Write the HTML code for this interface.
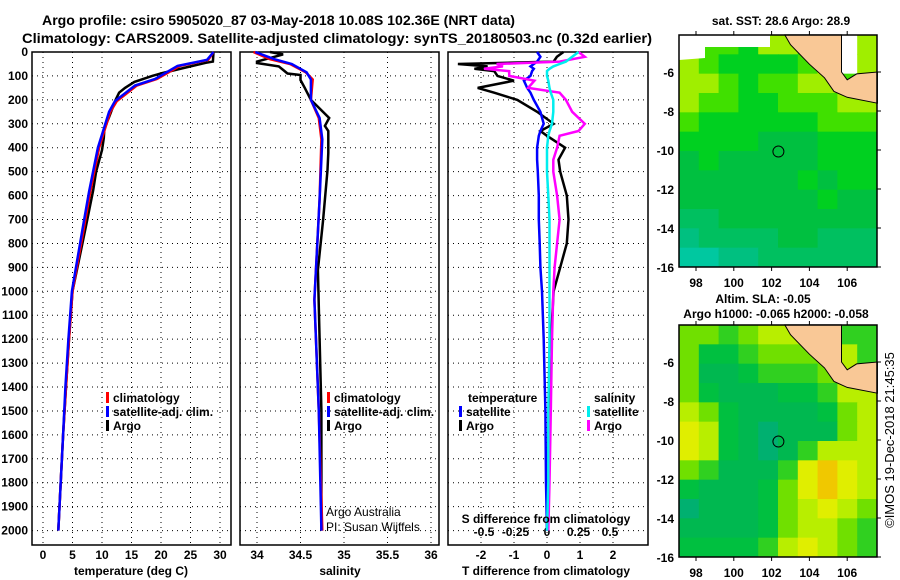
<!DOCTYPE html>
<html><head><meta charset="utf-8"><style>
body{margin:0;background:#fff}
svg{display:block;font-family:"Liberation Sans",sans-serif}
.t{font-weight:bold;font-size:12px}
</style></head><body>
<svg id="s" width="900" height="580" viewBox="0 0 900 580">
<text x="42" y="25" font-size="14" font-weight="bold" textLength="473" lengthAdjust="spacingAndGlyphs">Argo profile: csiro 5905020_87 03-May-2018 10.08S 102.36E (NRT data)</text>
<text x="22" y="43" font-size="14" font-weight="bold" textLength="630" lengthAdjust="spacingAndGlyphs">Climatology: CARS2009. Satellite-adjusted climatology: synTS_20180503.nc (0.32d earlier)</text>
<g id="g"></g>
</svg>
<script>
// ---------- data ----------
const depthTicks=[0,100,200,300,400,500,600,700,800,900,1000,1100,1200,1300,1400,1500,1600,1700,1800,1900,2000];
const tempTicks=[0,5,10,15,20,25,30];
const salTicks=[34,34.5,35,35.5,36];
const tdiffTicks=[-2,-1,0,1,2];
const sdiffTicks=[-0.5,-0.25,0,0.25,0.5];
const sdiffLabels=["-0.5","-0.25","0","0.25","0.5"];
const zTArgo=[0,40,45,60,88,100,125,150,170,200,272,320,360,410,500,577,700,786,1000,1200,1400,1600,1800,2000];
const tArgo=[28.9,28.8,27.6,25,20.2,18.5,15.5,13.9,12.9,12.3,11.2,10.4,10.3,10.0,9.0,8.5,7.5,6.8,5.0,4.4,3.9,3.4,3.0,2.6];
const zTClim=[0,33,58,113,140,205,250,400,585,755,1000,1200,1400,1600,1800,2000];
const tSat=[28.9,27.8,22.8,19,15.6,12.2,11.2,9.3,7.8,6.6,4.9,4.3,3.8,3.4,3.0,2.6];
const tClim=[28.9,28.0,23.2,19.3,15.9,12.5,11.4,9.5,8.0,6.8,5.0,4.4,3.9,3.4,3.0,2.6];
const zSArgo=[0,10,40,46,60,75,90,96,117,150,200,276,309,330,422,493,702,911,1200,1500,2000];
const sArgo=[34.15,34.3,34.0,34.0,34.25,34.3,34.35,34.5,34.5,34.55,34.62,34.83,34.78,34.82,34.82,34.81,34.76,34.7,34.72,34.74,34.74];
const zSClim=[0,30,50,85,115,200,276,365,615,1035,1500,2000];
const sSat=[33.98,34.2,34.4,34.57,34.62,34.62,34.72,34.75,34.72,34.66,34.71,34.74];
const sClim=[33.96,34.15,34.38,34.56,34.64,34.62,34.71,34.74,34.72,34.66,34.71,34.75];
const zDiff=[0,20,40,50,60,70,80,100,120,150,170,200,250,300,330,350,400,450,500,600,700,800,900,1000,1200,1500,1800,2000];
const dTArgo=[0.5,0.3,0.2,-2.7,-1.8,-2.2,-1.6,-1.5,-1.0,-2.1,-1.6,-0.9,-0.3,0.2,-0.2,0,0.55,0.35,0.4,0.6,0.65,0.6,0.4,0.2,0.12,0.05,0.02,0];
const dTSat=[-0.3,-0.2,-0.3,-0.4,-0.5,-0.4,-0.45,-0.5,-0.7,-0.6,-0.5,-0.4,-0.2,-0.1,-0.2,-0.25,-0.3,-0.3,-0.28,-0.25,-0.25,-0.22,-0.2,-0.15,-0.1,-0.05,-0.03,0];
const dSArgo=[0.25,0.3,0.1,-0.4,-0.35,-0.5,-0.3,-0.3,-0.1,-0.15,0.1,0.15,0.2,0.3,0.25,0.1,0.08,0.05,0.05,0.08,0.1,0.08,0.06,0.05,0.04,0.03,0.02,0.01];
const dSSat=[0.25,0.2,0.15,0.1,0.05,0.02,0,0,0.01,0.02,0.03,0.05,0.05,0.04,0.02,0.01,0,0,0,0.01,0.02,0.02,0.02,0.02,0.02,0.01,0.01,0];
const lonTicks=[98,100,102,104,106];
const latTicks=[-6,-8,-10,-12,-14,-16];
const sstGrid=[
[7,6,6,5,7,7,5,8,-1,7],[7,6,5,5,5,5,6,8,-1,7],[7,7,6,5,6,6,7,7,6,6],[7,6,6,5,5,6,6,6,7,7],
[6,5,5,5,5,5,5,6,6,6],[5,5,5,5,4,4,4,5,5,5],[4,5,4,4,4,4,4,5,5,5],[4,4,4,4,4,4,5,4,5,5],
[4,4,4,4,4,4,4,5,4,4],[3,3,4,4,4,4,4,4,4,4],[2,3,3,3,3,4,4,3,3,3],[1,1,2,2,3,3,3,3,3,3]];
const slaGrid=[
[6,6,5,6,7,7,7,7,5,5],[6,4,4,5,6,6,6,6,7,5],[6,3,3,4,5,5,5,6,7,6],[6,4,3,3,3,4,4,5,7,7],
[7,6,4,3,3,3,3,4,6,7],[8,7,4,3,2,3,3,3,6,7],[8,7,4,3,2,3,5,7,7,7],[6,5,3,3,3,5,8,9,8,7],
[4,3,3,3,4,6,8,9,8,7],[2,3,3,3,4,6,7,8,7,6],[3,3,3,3,4,6,7,7,6,5],[4,4,4,4,5,7,8,7,6,5]];
const argoLon=102.36, argoLat=-10.08;
// ---------- helpers ----------
const NS="http://www.w3.org/2000/svg";const G=document.getElementById('g');
function mk(t,a,p){const e=document.createElementNS(NS,t);for(const k in a)e.setAttribute(k,a[k]);(p||G).appendChild(e);return e;}
function txt(x,y,s,a){const e=mk('text',Object.assign({x:x,y:y},a||{}));e.textContent=s;return e;}
const Y=z=>52+z*0.2393;
const PT=52,PB=545;
function panel(x0,x1,xs,xt,name){
  const f=mk('rect',{x:x0,y:PT,width:x1-x0,height:PB-PT,fill:'none',stroke:'#000','stroke-width':1.5});
  
  depthTicks.forEach(d=>{const l=mk('line',{x1:x0,x2:x1,y1:Y(d),y2:Y(d),stroke:'#000','stroke-dasharray':'1 4'});});
  xt.forEach(v=>{const l=mk('line',{x1:xs(v),x2:xs(v),y1:PT,y2:PB,stroke:'#000','stroke-dasharray':'1 4'});});
}
function line(xs,zs,vs,col,w,name){
  const d=zs.map((z,i)=>(i?'L':'M')+xs(vs[i]).toFixed(1)+' '+Y(z).toFixed(1)).join('');
  const p=mk('path',{d:d,fill:'none',stroke:col,'stroke-width':w});
  
}
function leg(x,y,col,s,name){
  const r=mk('rect',{x:x,y:y-10,width:3,height:11,fill:col});
  const t=txt(x+7,y,s,{class:'t'});
}
// panel 1 temperature
const XT=v=>43+v*5.9;
panel(32,231,XT,tempTicks,'temperature-panel');
depthTicks.forEach(d=>{const t=txt(28,Y(d)+4,String(d),{class:'t','text-anchor':'end'});});
tempTicks.forEach(v=>{const t=txt(XT(v),559,String(v),{class:'t','text-anchor':'middle'});});
line(XT,zTArgo,tArgo,'#000',2.5,'temp-argo-line');
line(XT,zTClim,tClim,'#f00',2.5,'temp-climatology-line');
line(XT,zTClim,tSat,'#00f',2.5,'temp-satellite-line');
leg(106,402,'#f00','climatology','temp-legend-clim');leg(106,416,'#00f','satellite-adj. clim.','temp-legend-sat');leg(106,430,'#000','Argo','temp-legend-argo');
let t1=txt(131,575,'temperature (deg C)',{class:'t','text-anchor':'middle'});
// panel 2 salinity
const XS=v=>257+(v-34)*87;
panel(240,439,XS,salTicks,'salinity-panel');
salTicks.forEach(v=>{const t=txt(XS(v),559,String(v),{class:'t','text-anchor':'middle'});});
line(XS,zSArgo,sArgo,'#000',2.5,'sal-argo-line');
line(XS,zSClim,sClim,'#f00',2.5,'sal-climatology-line');
line(XS,zSClim,sSat,'#00f',2.5,'sal-satellite-line');
leg(327,402,'#f00','climatology','sal-legend-clim');leg(327,416,'#00f','satellite-adj. clim.','sal-legend-sat');leg(327,430,'#000','Argo','sal-legend-argo');
let a1=txt(326,516,'Argo Australia',{'font-size':12});
let a2=txt(326,531,'PI: Susan Wijffels',{'font-size':12});
let t2=txt(340,575,'salinity',{class:'t','text-anchor':'middle'});
// panel 3 differences
const XD=v=>547+v*33;const XDS=v=>547+v*126;
panel(448,648,XD,tdiffTicks,'difference-panel');
tdiffTicks.forEach(v=>{const t=txt(XD(v),559,String(v),{class:'t','text-anchor':'middle'});});
sdiffTicks.forEach((v,i)=>{const t=txt(XDS(v),536,sdiffLabels[i],{class:'t','text-anchor':'middle'});});
line(XD,zDiff,dTArgo,'#000',2.5,'tdiff-argo-line');
line(XD,zDiff,dTSat,'#00f',2.5,'tdiff-satellite-line');
line(XDS,zDiff,dSArgo,'#f0f',2.5,'sdiff-argo-line');
line(XDS,zDiff,dSSat,'#0ee',2.5,'sdiff-satellite-line');
let lt=txt(468,402,'temperature',{class:'t'});
leg(459,416,'#00f','satellite','tdiff-legend-sat');leg(459,430,'#000','Argo','tdiff-legend-argo');
let ls=txt(594,402,'salinity',{class:'t'});
leg(587,416,'#0ee','satellite','sdiff-legend-sat');leg(587,430,'#f0f','Argo','sdiff-legend-argo');
let sd=txt(546,523,'S difference from climatology',{class:'t','text-anchor':'middle'});
let td=txt(546,575,'T difference from climatology',{class:'t','text-anchor':'middle'});
// maps
const sstPal=['#00d2c8','#00c8a0','#00c080','#00c060','#00c040','#00d020','#40e000','#a0ee00','#e0e000','#ffc000'];
const slaPal=['#00a890','#00a880','#00b070','#00b850','#00c040','#30d020','#70e000','#b8ee00','#e0ee00','#f0c800'];
function map(y0,y1,latAt,grid,pal,name,nodata){
  const x0=679,x1=877;
  const LX=l=>696+(l-98)*18.9, LY=l=>latAt+(-6-l)*19.5;
  const rows=grid.length,cols=grid[0].length;
  const cw=(x1-x0)/cols,ch=(y1-y0)/rows;
  grid.forEach((r,i)=>r.forEach((v,j)=>{if(v<0)return;const c=mk('rect',{x:x0+j*cw,y:y0+i*ch,width:cw+0.5,height:ch+0.5,fill:pal[v]});}));
  if(nodata){const w=mk('polygon',{points:x0+','+y0+' 770,'+y0+' 770,47 705,47 705,58 '+x0+',60',fill:'#fff'});}
  const land=[[102.7,-4.1],[105.7,-4.1],[105.7,-6.0],[106.0,-6.4],[106.5,-6.1],[107.6,-6.0],[107.6,-7.6],[106,-7.3],[105.3,-7.0],[104.8,-6.3],[104,-5.6],[103,-4.6]];
  const lp=mk('polygon',{points:land.map(p=>LX(p[0]).toFixed(1)+','+LY(p[1]).toFixed(1)).join(' '),fill:'#f9c896',stroke:'#000','stroke-width':1});
  
  const c=mk('circle',{cx:LX(argoLon),cy:LY(argoLat),r:5.5,fill:'none',stroke:'#000','stroke-width':1});
  
  const f=mk('rect',{x:x0,y:y0,width:x1-x0,height:y1-y0,fill:'none',stroke:'#000','stroke-width':1.5});
  
  latTicks.forEach(l=>{const t=txt(x0-5,LY(l)+5,String(l),{class:'t','font-size':13,'text-anchor':'end'});
    mk('line',{x1:x1,x2:x1+4,y1:LY(l),y2:LY(l),stroke:'#000'});});
  lonTicks.forEach(l=>{const t=txt(LX(l),y1+20,String(l),{class:'t','font-size':13,'text-anchor':'middle'});
    mk('line',{x1:LX(l),x2:LX(l),y1:y0-4,y2:y0,stroke:'#000'});mk('line',{x1:LX(l),x2:LX(l),y1:y1,y2:y1+4,stroke:'#000'});});
}
map(35,267,72,sstGrid,sstPal,'sst-map',true);
map(325,557,362,slaGrid,slaPal,'sla-map',false);
let m1=txt(781,25,'sat. SST: 28.6 Argo: 28.9',{class:'t','text-anchor':'middle'});
let m2=txt(763,303,'Altim. SLA: -0.05',{class:'t','text-anchor':'middle'});
let m3=txt(776,318,'Argo h1000: -0.065 h2000: -0.058',{class:'t','text-anchor':'middle'});
let im=txt(0,0,'©IMOS 19-Dec-2018 21:45:35',{'font-size':13,'text-anchor':'middle',transform:'translate(894,440) rotate(-90)'});
</script>
</body></html>
